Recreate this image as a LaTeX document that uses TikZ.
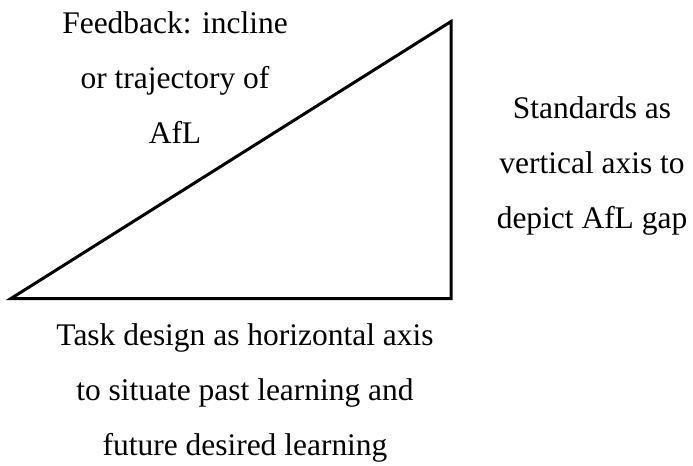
\documentclass[tikz,border=0pt]{standalone}
\usepackage{fontspec}
\setmainfont{Liberation Serif}
\begin{document}
\begin{tikzpicture}[x=0.75pt,y=-0.75pt,
  lbl/.style={inner sep=0pt, align=center, anchor=base,
    font=\fontsize{23.6pt}{41.25pt}\selectfont},
  tri/.style={draw=black, line width=2.25pt, line join=miter}]
\useasboundingbox (0,0) rectangle (693,465);
\coordinate (bl) at (11,298.5);
\coordinate (br) at (451,298.5);
\coordinate (tp) at (451,21.5);
\draw[tri] (bl) -- (br) -- (tp) -- cycle;
\node[lbl] (feedback) at (175,143) {Feedback: incline\\or trajectory of\\AfL};
\node[lbl] (standards) at (592,228) {Standards as\\vertical axis to\\depict AfL gap};
\node[lbl] (task) at (245,455) {Task design as horizontal axis\\to situate past learning and\\future desired learning};
\end{tikzpicture}
\end{document}
